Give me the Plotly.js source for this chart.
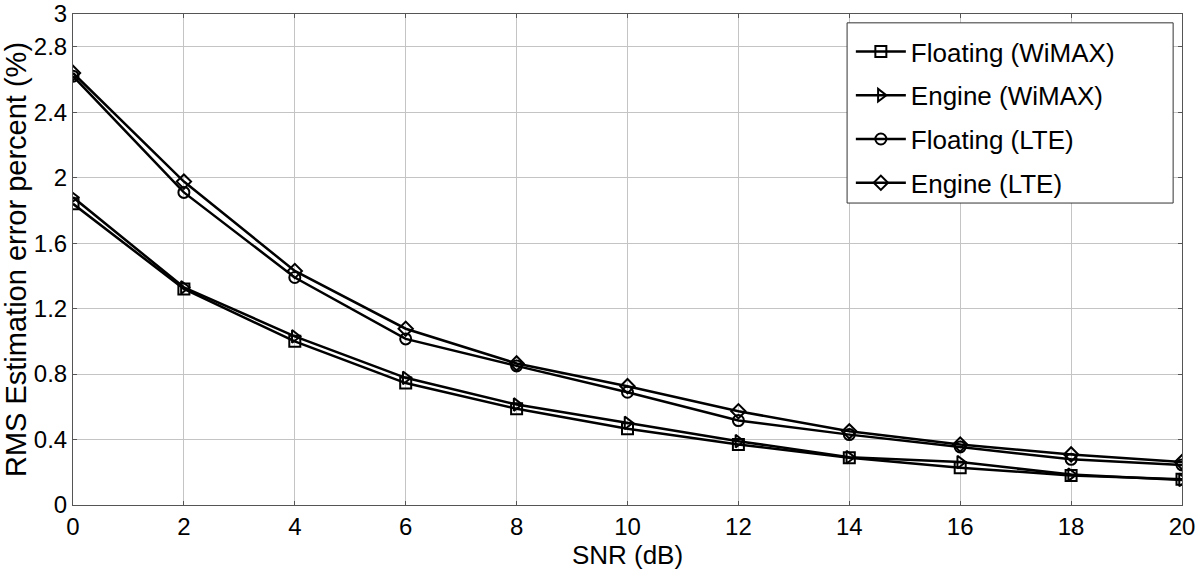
<!DOCTYPE html>
<html><head><meta charset="utf-8">
<script src="https://cdn.plot.ly/plotly-3.0.1.min.js"></script>
<style>body{margin:0;background:#fff}#chart{width:1200px;height:579px}</style>
</head><body><div id="chart"></div>
<script>
const snr = [0,2,4,6,8,10,12,14,16,18,20];
const floatingWimax = [1.84,1.32,1.00,0.745,0.588,0.466,0.37,0.289,0.228,0.181,0.158];
const engineWimax   = [1.88,1.33,1.03,0.777,0.614,0.502,0.39,0.292,0.262,0.186,0.153];
const floatingLte   = [2.62,1.91,1.39,1.015,0.85,0.689,0.516,0.43,0.355,0.279,0.245];
const engineLte     = [2.64,1.976,1.43,1.077,0.865,0.726,0.573,0.45,0.37,0.309,0.262];
const names = ['Floating (WiMAX)','Engine (WiMAX)','Floating (LTE)','Engine (LTE)'];
const symbols = ['square-open','triangle-right-open','circle-open','diamond-open'];
const series = [floatingWimax, engineWimax, floatingLte, engineLte];

const traces = series.map((s,i)=>({
  x: snr, y: s, name: names[i], legendgroup:'g'+i, type:'scatter', mode:'lines+markers',
  line:{color:'#000', width:2.5},
  marker:{symbol:symbols[i], size:11, color:'#000', line:{color:'#000', width:2}}
}));

const fam = 'Liberation Sans, Arial, sans-serif';
const tickFont = {family:fam, size:24, color:'#000'};
const labFont = {family:fam, size:26, color:'#000'};
Plotly.newPlot('chart', traces, {
  width:1200, height:579,
  margin:{l:73, r:18, t:14, b:74},
  paper_bgcolor:'#fff', plot_bgcolor:'#fff',
  font: tickFont,
  xaxis:{range:[0,20], dtick:2, tick0:0, showgrid:true, gridcolor:'#c4c4c4', gridwidth:1,
    showline:true, linecolor:'#555', linewidth:1, mirror:'ticks', ticks:'inside', ticklen:4, tickcolor:'#555',
    zeroline:false, tickfont:tickFont,
    title:{text:'SNR (dB)', font:labFont, standoff:0}},
  yaxis:{range:[0,3], tickvals:[0,0.4,0.8,1.2,1.6,2,2.4,2.8,3], ticktext:['0','0.4','0.8','1.2','1.6','2','2.4','2.8','3'],
    showgrid:true, gridcolor:'#c4c4c4', gridwidth:1,
    showline:true, linecolor:'#555', linewidth:1, mirror:'ticks', ticks:'inside', ticklen:4, tickcolor:'#555',
    zeroline:false, tickfont:tickFont,
    title:{text:'RMS Estimation error percent (%)', font:{family:fam, size:29, color:'#000'}, standoff:4}},
  shapes:[{type:'rect', xref:'paper', yref:'paper', x0:0.698, x1:0.992, y0:0.615, y1:0.982,
    fillcolor:'#fff', line:{color:'#333', width:1}, layer:'above'}],
  showlegend:true,
  legend:{x:0.7014, y:0.9715, xanchor:'left', yanchor:'top', bgcolor:'rgba(0,0,0,0)', borderwidth:0,
    font:labFont, tracegroupgap:7, itemwidth:50}
}, {displayModeBar:false, staticPlot:true});
</script></body></html>
